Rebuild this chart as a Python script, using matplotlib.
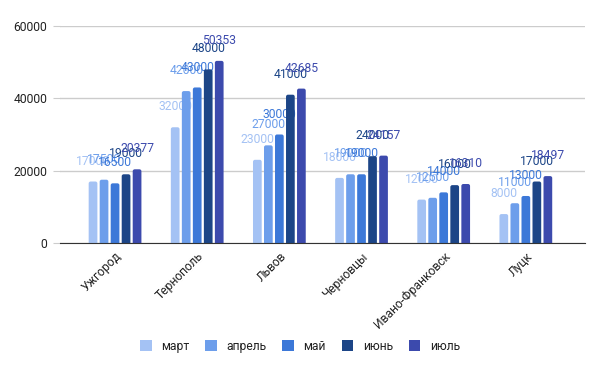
import numpy as np
import matplotlib.pyplot as plt
from matplotlib.patches import FancyBboxPatch, Patch

plt.rcParams['font.family'] = ['Roboto', 'DejaVu Sans']

# data
cities = ['Ужгород', 'Тернополь', 'Львов', 'Черновцы', 'Ивано-Франковск', 'Луцк']
months = ['март', 'апрель', 'май', 'июнь', 'июль']
mart = [17000, 32000, 23000, 18000, 12000, 8000]
aprel = [17500, 42000, 27000, 19000, 12500, 11000]
mai = [16500, 43000, 30000, 19000, 14000, 13000]
iyun = [19000, 48000, 41000, 24000, 16000, 17000]
iyul = [20377, 50353, 42685, 24157, 16310, 18497]

series = [mart, aprel, mai, iyun, iyul]
colors = ['#a4c2f4', '#6d9eeb', '#3c78d8', '#1c4587', '#3c4aad']

fig = plt.figure(figsize=(6, 3.71), dpi=100)
ax = fig.add_axes([0.1, 0.345, 0.875, 0.585])
ax.set_ylim(0, 60000)
ax.set_xlim(-0.67, 5.72)

x = np.arange(len(cities))
pitch = 0.134
width = 0.106
# rounded tops: radius ~2px, in x and y data units
rx = 0.024
ry = 550
for i, (vals, col) in enumerate(zip(series, colors)):
    bars = ax.bar(x + (i - 2) * pitch, vals, width, color=col, zorder=3)
    for r in bars:
        r.set_visible(False)
        ax.add_patch(FancyBboxPatch((r.get_x(), -ry), r.get_width(), r.get_height() + ry,
                                    boxstyle='round,pad=0,rounding_size=%f' % rx,
                                    mutation_aspect=ry / rx, facecolor=col,
                                    edgecolor='none', zorder=3, clip_on=True))
    ax.bar_label(bars, labels=[str(v) for v in vals], padding=10, color=col, fontsize=8.7)

ax.set_yticks([0, 20000, 40000, 60000])
ax.set_xticks(x)
ax.set_xticklabels(cities, rotation=45, ha='right', rotation_mode='anchor', fontsize=8.7, color='#222222')
ax.tick_params(axis='y', length=5, color='#cccccc', labelsize=8.7, labelcolor='#222222', pad=4)
ax.tick_params(axis='x', length=0, pad=5)
ax.grid(axis='y', color='#cccccc', linewidth=1, zorder=0)
for s in ['top', 'right', 'left']:
    ax.spines[s].set_visible(False)
ax.spines['bottom'].set_color('#333333')
ax.spines['bottom'].set_zorder(4)

handles = [Patch(facecolor=c, edgecolor='none', label=m) for c, m in zip(colors, months)]
fig.legend(handles=handles, loc='center', bbox_to_anchor=(0.5, 0.067), ncol=5, frameon=False,
           fontsize=8.7, handlelength=0.95, handleheight=0.95, columnspacing=1.3,
           handletextpad=0.8, labelcolor='#222222')

fig.savefig('out.png', dpi=100)
